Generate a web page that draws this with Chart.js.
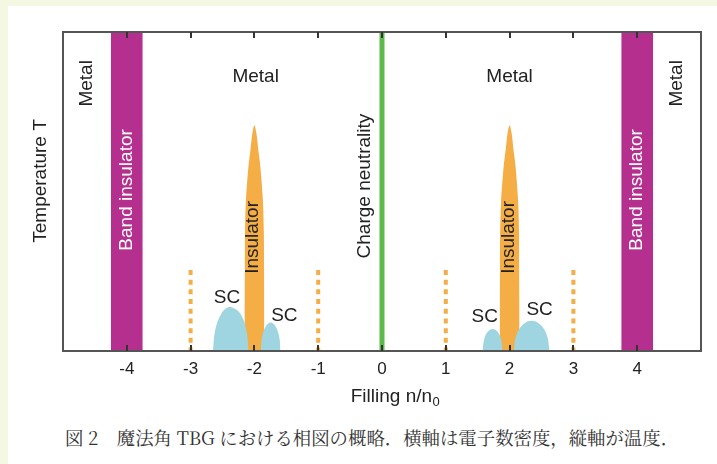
<!DOCTYPE html>
<html>
<head>
<meta charset="utf-8">
<script src="https://cdn.jsdelivr.net/npm/chart.js@4.4.1/dist/chart.umd.min.js"></script>
<style>
  html, body { margin: 0; padding: 0; }
  body { width: 717px; height: 464px; background: #f4f7e1; position: relative; overflow: hidden; }
  #panel { position: absolute; left: 8px; top: 6px; right: 0; bottom: 0; background: #fff; }
  #chart { position: absolute; left: 0; top: 0; }
  #caption {
    position: absolute; left: 65px; top: 428px; line-height: 1;
    font-family: "Noto Serif CJK JP", "Noto Sans CJK JP", serif;
    font-size: 18.4px; color: #333; white-space: nowrap;
  }
</style>
</head>
<body>
<div id="panel"></div>
<canvas id="chart" width="717" height="420"></canvas>
<div id="caption">図 2　魔法角 TBG における相図の概略．横軸は電子数密度，縦軸が温度．</div>
<script>
// axis
const xTicks = [-4, -3, -2, -1, 0, 1, 2, 3, 4];
const xMin = -5, xMax = 5;
const tMax = 10;

// band insulators at n/n0 = -4 and +4 (full height)
const bandNeg = [[-4.25, 0], [-4.25, 10], [-3.75, 10], [-3.75, 0]];
const bandPos = [[3.75, 0], [3.75, 10], [4.25, 10], [4.25, 0]];

// charge neutrality line
const neutrality = [[0, 0], [0, 10]];

// correlated insulators (half filling)
const insulatorNeg = [[-2.156, 0], [-2.156, 1.5], [-2.152, 2.6], [-2.148, 3.7], [-2.133, 4.73], [-2.094, 5.77],
  [-2.062, 6.3], [-2.03, 6.85], [-2, 7.08], [-1.97, 6.85], [-1.938, 6.3], [-1.906, 5.77], [-1.867, 4.73],
  [-1.852, 3.7], [-1.848, 2.6], [-1.844, 1.5], [-1.844, 0]];
const insulatorPos = [[1.844, 0], [1.844, 1.5], [1.848, 2.6], [1.852, 3.7], [1.867, 4.73], [1.906, 5.77],
  [1.938, 6.3], [1.97, 6.85], [2, 7.08], [2.03, 6.85], [2.062, 6.3], [2.094, 5.77], [2.133, 4.73],
  [2.148, 3.7], [2.152, 2.6], [2.156, 1.5], [2.156, 0]];

// superconducting domes
const scNegOuter = [[-2.65, 0], [-2.61, 0.69], [-2.51, 1.2], [-2.42, 1.36], [-2.37, 1.38], [-2.23, 1.2], [-2.13, 0.69], [-2.09, 0]];
const scNegInner = [[-1.9, 0], [-1.879, 0.445], [-1.822, 0.77], [-1.745, 0.89], [-1.668, 0.77], [-1.611, 0.445], [-1.59, 0]];
const scPosInner = [[1.578, 0], [1.599, 0.345], [1.656, 0.6], [1.734, 0.69], [1.812, 0.6], [1.869, 0.345], [1.89, 0]];
const scPosOuter = [[2.065, 0], [2.103, 0.475], [2.205, 0.82], [2.345, 0.95], [2.485, 0.82], [2.587, 0.475], [2.625, 0]];

// dotted lines at quarter fillings
const dottedX = [-3, -1, 1, 3];
const dottedTop = 2.54;

const MAGENTA = '#b52f8e', ORANGE = '#f5ad45', BLUE = '#9fd5e1', GREEN = '#5bba4b';

const pts = arr => arr.map(p => ({x: p[0], y: p[1]}));

function shape(data, color, tension, order) {
  return {
    data: pts(data), backgroundColor: color, borderColor: color, borderWidth: 0,
    fill: 'origin', tension: tension, pointRadius: 0, order: order
  };
}

const datasets = [
  shape(scNegOuter, BLUE, 0.4, 1),
  shape(scNegInner, BLUE, 0.4, 1),
  shape(scPosInner, BLUE, 0.4, 1),
  shape(scPosOuter, BLUE, 0.4, 1),
  shape(insulatorNeg, ORANGE, 0.3, 2),
  shape(insulatorPos, ORANGE, 0.3, 2),
  shape(bandNeg, MAGENTA, 0, 3),
  shape(bandPos, MAGENTA, 0, 3),
  {data: pts(neutrality), borderColor: GREEN, borderWidth: 5, pointRadius: 0, fill: false, order: 3}
];
dottedX.forEach(x => {
  datasets.push({
    data: [{x: x, y: dottedTop}, {x: x, y: 0}], borderColor: ORANGE, borderWidth: 4,
    borderDash: [5, 4.7], borderCapStyle: 'butt', pointRadius: 0, fill: false, order: 3
  });
});

// text in the diagram (data coords)
const notes = [
  {text: 'Metal', x: -4.63, y: 8.39, rot: true, color: '#222'},
  {text: 'Metal', x: 4.62, y: 8.39, rot: true, color: '#222'},
  {text: 'Metal', x: -1.98, y: 8.59, rot: false, color: '#222'},
  {text: 'Metal', x: 2.0, y: 8.59, rot: false, color: '#222'},
  {text: 'Band insulator', x: -4, y: 5.05, rot: true, color: '#fff'},
  {text: 'Band insulator', x: 4, y: 5.05, rot: true, color: '#fff'},
  {text: 'Charge neutrality', x: -0.27, y: 5.17, rot: true, color: '#222'},
  {text: 'Insulator', x: -2.02, y: 3.56, rot: true, color: '#222'},
  {text: 'Insulator', x: 1.98, y: 3.56, rot: true, color: '#222'},
  {text: 'SC', x: -2.43, y: 1.68, rot: false, color: '#222'},
  {text: 'SC', x: -1.53, y: 1.12, rot: false, color: '#222'},
  {text: 'SC', x: 1.61, y: 1.06, rot: false, color: '#222'},
  {text: 'SC', x: 2.47, y: 1.28, rot: false, color: '#222'}
];

const FONT = '"Liberation Sans", Arial, Helvetica, sans-serif';

const diagramText = {
  id: 'diagramText',
  afterDatasetsDraw(chart) {
    const {ctx, chartArea, scales} = chart;
    const sx = scales.x, sy = scales.y;
    ctx.save();
    // frame
    ctx.strokeStyle = '#555';
    ctx.lineWidth = 2;
    ctx.strokeRect(chartArea.left, chartArea.top, chartArea.width, chartArea.height);
    // inward ticks top and bottom
    ctx.strokeStyle = '#333';
    ctx.beginPath();
    xTicks.forEach(v => {
      const px = Math.round(sx.getPixelForValue(v));
      ctx.moveTo(px, chartArea.bottom);
      ctx.lineTo(px, chartArea.bottom - 6);
      ctx.moveTo(px, chartArea.top);
      ctx.lineTo(px, chartArea.top + 6);
    });
    ctx.stroke();

    ctx.font = '19px ' + FONT;
    ctx.textAlign = 'center';
    ctx.textBaseline = 'middle';
    notes.forEach(n => {
      ctx.save();
      ctx.fillStyle = n.color;
      ctx.translate(sx.getPixelForValue(n.x), sy.getPixelForValue(n.y));
      if (n.rot) ctx.rotate(-Math.PI / 2);
      ctx.fillText(n.text, 0, 0);
      ctx.restore();
    });

    // y axis title
    ctx.fillStyle = '#222';
    ctx.save();
    ctx.translate(chartArea.left - 22.5, sy.getPixelForValue(5.33));
    ctx.rotate(-Math.PI / 2);
    ctx.fillText('Temperature T', 0, 0);
    ctx.restore();

    // x axis title with subscript
    ctx.textAlign = 'left';
    ctx.textBaseline = 'alphabetic';
    const main = 'Filling n/n', sub = '0';
    ctx.font = '19px ' + FONT;
    const w1 = ctx.measureText(main).width;
    ctx.font = '13px ' + FONT;
    const w2 = ctx.measureText(sub).width;
    const cx = (chartArea.left + chartArea.right) / 2 + 13;
    const x0 = cx - (w1 + w2) / 2;
    const base = chartArea.bottom + 50.5;
    ctx.font = '19px ' + FONT;
    ctx.fillText(main, x0, base);
    ctx.font = '13px ' + FONT;
    ctx.fillText(sub, x0 + w1 + 0.5, base + 4.5);
    ctx.restore();
  }
};

new Chart(document.getElementById('chart'), {
  type: 'line',
  data: {datasets: datasets},
  options: {
    responsive: false,
    animation: false,
    events: [],
    layout: {padding: {left: 63, right: 16, top: 32, bottom: 0}},
    plugins: {legend: {display: false}, tooltip: {enabled: false}},
    scales: {
      x: {
        type: 'linear', min: xMin, max: xMax,
        afterBuildTicks: scale => { scale.ticks = xTicks.map(v => ({value: v})); },
        afterFit: scale => { scale.height = 69; },
        grid: {display: false, drawTicks: false, tickLength: 0},
        border: {display: false},
        ticks: {font: {size: 17, family: FONT}, color: '#222', padding: 8, maxRotation: 0}
      },
      y: {
        type: 'linear', min: 0, max: tMax, display: false
      }
    }
  },
  plugins: [diagramText]
});
</script>
</body>
</html>
